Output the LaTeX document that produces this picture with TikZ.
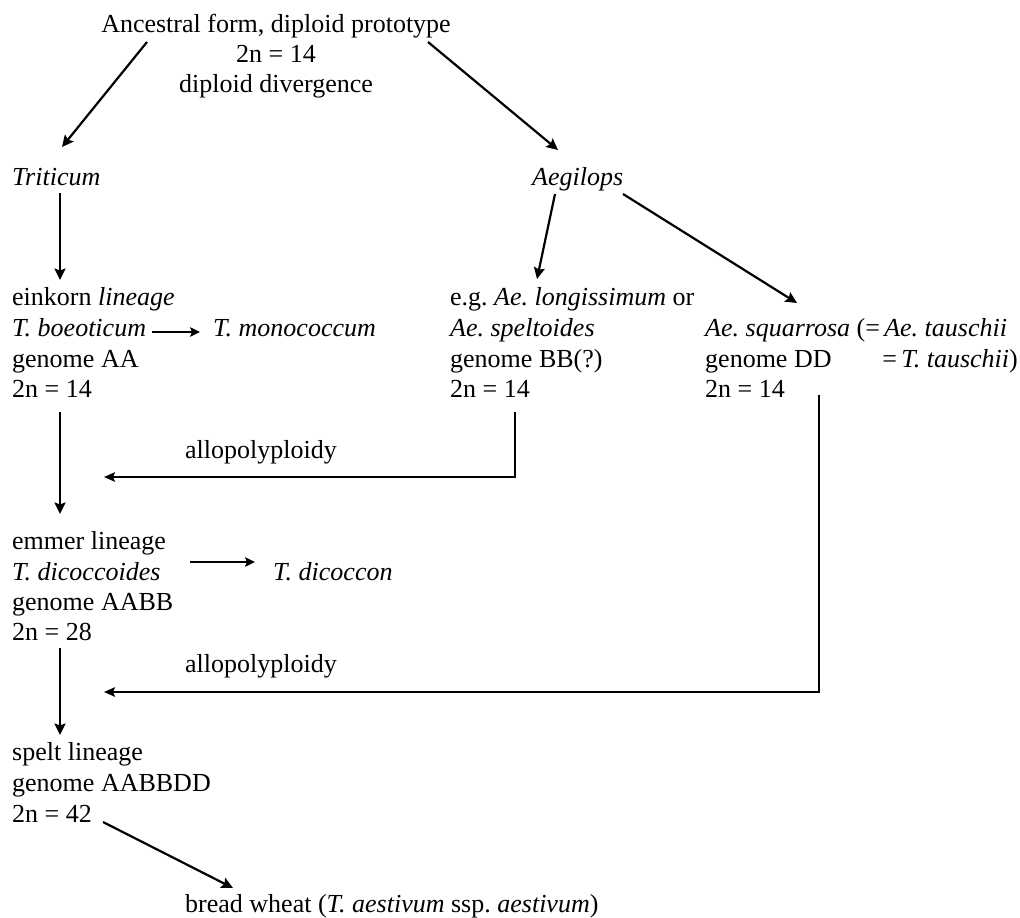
\documentclass[tikz,border=0pt]{standalone}
\usepackage{fontspec}
\setmainfont{Liberation Serif}
\usetikzlibrary{arrows.meta}
\frenchspacing
\begin{document}
\frenchspacing
\begin{tikzpicture}[x=1pt,y=-1pt,
  txt/.style={anchor=base west,inner sep=0pt,font=\fontsize{26}{31}\selectfont},
  ctr/.style={anchor=base,inner sep=0pt,font=\fontsize{26}{31}\selectfont},
  rgt/.style={anchor=base east,inner sep=0pt,font=\fontsize{26}{31}\selectfont},
  arr/.style={line width=2.2pt,-{Stealth[length=11.5pt,width=11pt,inset=2pt]}},
  sarr/.style={line width=2.2pt,-{Stealth[length=10pt,width=9.5pt,inset=2pt]}},
  elb/.style={line width=1.8pt,-{Stealth[length=11pt,width=9.5pt,inset=2pt]}}]
\useasboundingbox (0,0) rectangle (1020,918);
% top
\node[ctr] (anc1) at (276,32) {Ancestral form, diploid prototype};
\node[ctr] (anc2) at (276,62) {2n = 14};
\node[ctr] (anc3) at (276,92) {diploid divergence};
\node[txt] (trit) at (12,185) {\textit{Triticum}};
\node[txt] (aeg) at (532,185) {\textit{Aegilops}};
% einkorn
\node[txt] (ein1) at (12,305) {einkorn \textit{lineage}};
\node[txt] (ein2) at (12,336) {\textit{T. boeoticum}};
\node[txt] (mono) at (213,336) {\textit{T. monococcum}};
\node[txt] (ein3) at (12,367) {genome AA};
\node[txt] (ein4) at (12,397) {2n = 14};
% B genome
\node[txt] (bb1) at (450,305) {e.g. \textit{Ae. longissimum} or};
\node[txt] (bb2) at (450,336) {\textit{Ae. speltoides}};
\node[txt] (bb3) at (450,367) {genome BB(?)};
\node[txt] (bb4) at (450,397) {2n = 14};
% D genome
\node[txt] (dd1) at (705,336) {\textit{Ae. squarrosa} (=\,\textit{Ae. tauschii}};
\node[txt] (dd2) at (705,367) {genome DD};
\node[rgt] (dd2b) at (1018,367) {=\,\textit{T. tauschii})};
\node[txt] (dd3) at (705,397) {2n = 14};
% allopolyploidy labels
\node[txt] (allo1) at (185,458) {allopolyploidy};
\node[txt] (allo2) at (185,672) {allopolyploidy};
% emmer
\node[txt] (em1) at (12,549) {emmer lineage};
\node[txt] (em2) at (12,580) {\textit{T. dicoccoides}};
\node[txt] (dicc) at (273,580) {\textit{T. dicoccon}};
\node[txt] (em3) at (12,610) {genome AABB};
\node[txt] (em4) at (12,640) {2n = 28};
% spelt
\node[txt] (sp1) at (12,760) {spelt lineage};
\node[txt] (sp2) at (12,791) {genome AABBDD};
\node[txt] (sp3) at (12,822) {2n = 42};
\node[txt] (bread) at (185,912) {bread wheat (\textit{T. aestivum} ssp. \textit{aestivum})};
% connector ends
\coordinate (ancL) at (147,42);
\coordinate (ancR) at (428,42);
\coordinate (tritIn) at (62,147);
\coordinate (aegIn) at (558,150);
\coordinate (tritOut) at (60,193);
\coordinate (einIn) at (60,280);
\coordinate (aegOutL) at (555,194);
\coordinate (bbIn) at (537,279);
\coordinate (aegOutR) at (623,194);
\coordinate (ddIn) at (797,303);
\coordinate (boeOut) at (152,332);
\coordinate (monoIn) at (200,332);
\coordinate (bbOut) at (515,412);
\coordinate (hyb1) at (104,477);
\coordinate (einOut) at (60,412);
\coordinate (emIn) at (60,514);
\coordinate (dicOut) at (190,562);
\coordinate (diccIn) at (255,562);
\coordinate (ddOut) at (819,395);
\coordinate (hyb2) at (104,692);
\coordinate (emOut) at (60,648);
\coordinate (spIn) at (60,735);
\coordinate (spOut) at (103,822);
\coordinate (breadIn) at (233,888);
% connectors
\draw[arr] (ancL) -- (tritIn);
\draw[arr] (ancR) -- (aegIn);
\draw[arr] (tritOut) -- (einIn);
\draw[arr] (aegOutL) -- (bbIn);
\draw[arr] (aegOutR) -- (ddIn);
\draw[sarr] (boeOut) -- (monoIn);
\draw[elb] (bbOut) |- (hyb1);
\draw[arr] (einOut) -- (emIn);
\draw[sarr] (dicOut) -- (diccIn);
\draw[elb] (ddOut) |- (hyb2);
\draw[arr] (emOut) -- (spIn);
\draw[arr] (spOut) -- (breadIn);
\end{tikzpicture}
\end{document}
